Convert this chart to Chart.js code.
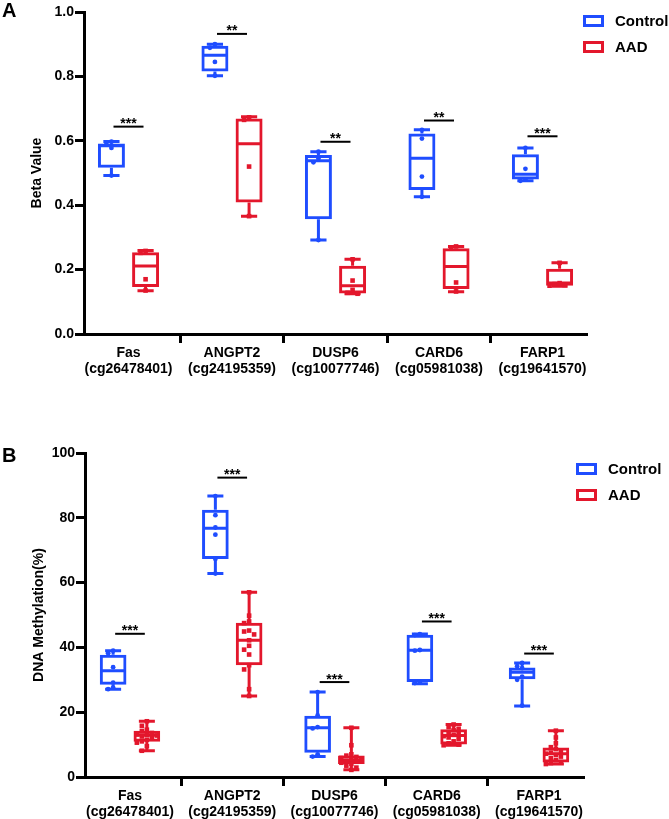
<!DOCTYPE html>
<html>
<head>
<meta charset="utf-8">
<script src="https://cdn.jsdelivr.net/npm/chart.js@4.4.1/dist/chart.umd.min.js"></script>
<style>
  html, body { margin: 0; padding: 0; background: #fff; }
  body { width: 669px; height: 819px; position: relative; overflow: hidden;
         font-family: "Liberation Sans", Arial, sans-serif; }
  .panel { position: absolute; left: 0; }
  .plabel { position: absolute; font-weight: bold; font-size: 20px; line-height: 1; color: #000; }
  .leg { position: absolute; font-weight: bold; font-size: 15px; color: #000; white-space: nowrap; }
  .leg .sw { position: absolute; left: 0; width: 21px; height: 12px; box-sizing: border-box; border: 3px solid; }
  .leg .tx { position: absolute; left: 32px; line-height: 16px; }
</style>
</head>
<body>
<div class="panel" style="top:0;width:669px;height:400px;"><canvas id="chartA" width="669" height="400"></canvas></div>
<div class="panel" style="top:400px;width:669px;height:419px;"><canvas id="chartB" width="669" height="419"></canvas></div>
<div class="plabel" style="left:2px;top:0px;">A</div>
<div class="plabel" style="left:2px;top:445px;">B</div>
<div id="legA"></div>
<div id="legB"></div>
<script>
// ---------------- DATA ----------------
const categories = [
  ['Fas', '(cg26478401)'],
  ['ANGPT2', '(cg24195359)'],
  ['DUSP6', '(cg10077746)'],
  ['CARD6', '(cg05981038)'],
  ['FARP1', '(cg19641570)']
];
const seriesNames = ['Control', 'AAD'];

// Panel A: Beta Value
const yTicksA = [0.0, 0.2, 0.4, 0.6, 0.8, 1.0];
const ctrlMinA = [0.492, 0.802, 0.292, 0.426, 0.476];
const ctrlQ1A  = [0.516, 0.815, 0.356, 0.447, 0.480];
const ctrlMedA = [0.585, 0.866, 0.538, 0.546, 0.496];
const ctrlQ3A  = [0.592, 0.895, 0.556, 0.623, 0.558];
const ctrlMaxA = [0.598, 0.900, 0.566, 0.634, 0.578];
const ctrlPtsA = [
  [0.597, 0.590, 0.578, 0.492],
  [0.900, 0.889, 0.845, 0.802],
  [0.566, 0.545, 0.533, 0.292],
  [0.634, 0.607, 0.489, 0.426],
  [0.578, 0.513, 0.480, 0.476]
];
const aadMinA = [0.134, 0.366, 0.125, 0.131, 0.148];
const aadQ1A  = [0.146, 0.408, 0.126, 0.140, 0.150];
const aadMedA = [0.211, 0.591, 0.150, 0.210, 0.158];
const aadQ3A  = [0.254, 0.669, 0.212, 0.266, 0.203];
const aadMaxA = [0.259, 0.675, 0.232, 0.272, 0.221];
const aadPtsA = [
  [0.258, 0.252, 0.170, 0.135],
  [0.673, 0.665, 0.520, 0.366],
  [0.232, 0.166, 0.137, 0.128, 0.125],
  [0.272, 0.265, 0.160, 0.132],
  [0.221, 0.158, 0.155, 0.152, 0.150]
];
const sigYA    = [0.644, 0.932, 0.597, 0.663, 0.614];
const sigTextA = ['***', '**', '**', '**', '***'];

// Panel B: DNA Methylation (%)
const yTicksB = [0, 20, 40, 60, 80, 100];
const ctrlMinB = [27.1, 62.8, 6.3, 28.8, 21.9];
const ctrlQ1B  = [28.5, 67.3, 7.5, 29.3, 30.2];
const ctrlMedB = [32.8, 76.8, 15.2, 39.1, 32.3];
const ctrlQ3B  = [37.7, 82.5, 18.9, 43.9, 33.8];
const ctrlMaxB = [39.0, 86.7, 26.2, 44.1, 35.2];
const ctrlPtsB = [
  [39.0, 38.2, 33.9, 29.1, 27.6, 27.1],
  [86.7, 80.8, 77.0, 74.8, 67.3, 62.8],
  [26.2, 19.0, 15.4, 15.0, 7.0, 6.3],
  [44.1, 43.8, 39.2, 39.0, 29.3, 29.0],
  [35.2, 34.2, 33.6, 31.0, 30.0, 22.0]
];
const aadMinB = [8.1, 25.0, 2.2, 9.8, 4.0];
const aadQ1B  = [10.9, 34.5, 4.0, 10.0, 4.5];
const aadMedB = [12.9, 42.2, 5.1, 12.8, 7.2];
const aadQ3B  = [14.3, 47.6, 6.6, 14.7, 9.1];
const aadMaxB = [17.2, 57.0, 15.2, 16.2, 14.3];
const aadPtsB = [
  [17.2, 15.8, 14.6, 14.2, 13.6, 13.2, 13.0, 12.8, 12.5, 12.0, 11.5, 11.0, 10.6, 9.5, 8.1],
  [57.0, 49.8, 48.0, 47.5, 45.2, 44.9, 44.0, 42.2, 40.5, 39.3, 37.8, 34.5, 33.2, 27.1, 25.0],
  [15.2, 9.8, 7.0, 6.6, 6.2, 5.9, 5.5, 5.2, 5.0, 4.7, 4.4, 4.0, 3.5, 2.9, 2.2],
  [16.2, 15.4, 14.9, 14.5, 13.8, 13.4, 13.0, 12.6, 12.2, 11.8, 11.0, 10.4, 10.0, 9.8],
  [14.3, 12.2, 10.4, 9.2, 8.6, 8.0, 7.5, 7.2, 6.8, 6.3, 5.8, 5.2, 4.6, 4.3, 4.0]
];
const sigYB    = [44.2, 92.4, 29.3, 48.0, 38.1];
const sigTextB = ['***', '***', '***', '***', '***'];

// ---------------- STYLE ----------------
const BLUE = '#1f4dff';
const RED = '#e3172c';
const FONT = '"Liberation Sans", Arial, sans-serif';

function makePlugin(spec) {
  return {
    id: 'boxExtras',
    afterDatasetsDraw(chart) {
      const ctx = chart.ctx, ys = chart.scales.y, xs = chart.scales.x;
      ctx.save();
      spec.groups.forEach((g, di) => {
        const meta = chart.getDatasetMeta(di);
        meta.data.forEach((bar, i) => {
          const cx = bar.x, w = bar.width;
          const pMin = ys.getPixelForValue(g.min[i]);
          const pQ1 = ys.getPixelForValue(g.q1[i]);
          const pMed = ys.getPixelForValue(g.med[i]);
          const pQ3 = ys.getPixelForValue(g.q3[i]);
          const pMax = ys.getPixelForValue(g.max[i]);
          const cw = w * 0.3;
          ctx.strokeStyle = g.color;
          ctx.lineWidth = 3;
          ctx.lineCap = 'butt';
          ctx.beginPath();
          ctx.moveTo(cx, pQ3); ctx.lineTo(cx, pMax);
          ctx.moveTo(cx, pQ1); ctx.lineTo(cx, pMin);
          ctx.moveTo(cx - cw, pMax); ctx.lineTo(cx + cw, pMax);
          ctx.moveTo(cx - cw, pMin); ctx.lineTo(cx + cw, pMin);
          ctx.moveTo(cx - w / 2 + 1, pMed); ctx.lineTo(cx + w / 2 - 1, pMed);
          ctx.stroke();
          // points with simple deterministic beeswarm dodge
          const placed = [];
          const step = 5, sz = 4.6;
          const offs = [0, -1, 1, -2, 2, -3, 3];
          ctx.fillStyle = g.color;
          g.pts[i].forEach(v => {
            const py = ys.getPixelForValue(v);
            let dx = 0;
            for (const o of offs) {
              const cand = o * step;
              if (!placed.some(p => Math.abs(p.y - py) < sz && Math.abs(p.x - cand) < sz)) { dx = cand; break; }
            }
            placed.push({x: dx, y: py});
            if (g.shape === 'circle') {
              ctx.beginPath(); ctx.arc(cx + dx, py, 2.4, 0, Math.PI * 2); ctx.fill();
            } else {
              ctx.fillRect(cx + dx - 2.3, py - 2.3, 4.6, 4.6);
            }
          });
        });
      });
      // significance bars
      ctx.strokeStyle = '#000';
      ctx.fillStyle = '#000';
      ctx.lineWidth = 2;
      ctx.font = 'bold 14px ' + FONT;
      ctx.textAlign = 'center';
      ctx.textBaseline = 'alphabetic';
      spec.sigY.forEach((v, i) => {
        const py = ys.getPixelForValue(v);
        const x0 = xs.getPixelForValue(i - 0.145), x1 = xs.getPixelForValue(i + 0.145);
        ctx.beginPath(); ctx.moveTo(x0, py); ctx.lineTo(x1, py); ctx.stroke();
        ctx.fillText(spec.sigText[i], (x0 + x1) / 2, py + 1.5);
      });
      ctx.restore();
    }
  };
}

function makeChart(id, spec) {
  const ds = (name, g, color) => ({
    label: name,
    data: g.q1.map((q, i) => ({x: i, y: [q, g.q3[i]]})),
    borderColor: color,
    backgroundColor: 'rgba(255,255,255,0)',
    borderWidth: 3,
    borderSkipped: false,
    categoryPercentage: 0.66,
    barPercentage: 0.79
  });
  const tickFont = {family: FONT, size: 14, weight: 'bold', lineHeight: 16 / 14};
  return new Chart(document.getElementById(id), {
    type: 'bar',
    data: {
      datasets: [ds(seriesNames[0], spec.groups[0], BLUE), ds(seriesNames[1], spec.groups[1], RED)]
    },
    options: {
      responsive: false,
      animation: false,
      layout: {padding: {top: spec.padTop, left: spec.padLeft, right: spec.padRight, bottom: 0}},
      plugins: {legend: {display: false}, tooltip: {enabled: false}},
      scales: {
        x: {
          type: 'linear', min: spec.xmin, max: spec.xmax, offset: false,
          afterBuildTicks: s => { s.ticks = categories.map((_, i) => ({value: i})); },
          afterFit: s => { s.height = spec.xH; },
          ticks: {callback: v => categories[v], font: tickFont, color: '#000', padding: 2,
                  maxRotation: 0, minRotation: 0, autoSkip: false},
          grid: {display: true, drawOnChartArea: false, drawTicks: true, tickLength: 9,
                 tickWidth: 3, tickColor: '#000'},
          border: {display: true, color: '#000', width: 3}
        },
        y: {
          min: spec.yTicks[0], max: spec.yTicks[spec.yTicks.length - 1],
          afterBuildTicks: s => { s.ticks = spec.yTicks.map(v => ({value: v})); },
          afterFit: s => { s.width = spec.yW; },
          ticks: {callback: v => spec.fmt(v), font: {family: FONT, size: 14, weight: 'bold'},
                  color: '#000', padding: 1},
          title: {display: true, text: spec.yTitle, color: '#000',
                  font: {family: FONT, size: 14, weight: 'bold'}, padding: {top: 0, bottom: 0}},
          grid: {display: true, drawOnChartArea: false, drawTicks: true, tickLength: 9,
                 tickWidth: 3, tickColor: '#000'},
          border: {display: true, color: '#000', width: 3}
        }
      }
    },
    plugins: [makePlugin(spec)]
  });
}

makeChart('chartA', {
  groups: [
    {min: ctrlMinA, q1: ctrlQ1A, med: ctrlMedA, q3: ctrlQ3A, max: ctrlMaxA, pts: ctrlPtsA, color: BLUE, shape: 'circle'},
    {min: aadMinA, q1: aadQ1A, med: aadMedA, q3: aadQ3A, max: aadMaxA, pts: aadPtsA, color: RED, shape: 'square'}
  ],
  sigY: sigYA, sigText: sigTextA,
  yTicks: yTicksA, fmt: v => v.toFixed(1), yTitle: 'Beta Value',
  xmin: -0.43, xmax: 4.43,
  padTop: 12, padLeft: 29, padRight: 82, yW: 55, xH: 66
});

makeChart('chartB', {
  groups: [
    {min: ctrlMinB, q1: ctrlQ1B, med: ctrlMedB, q3: ctrlQ3B, max: ctrlMaxB, pts: ctrlPtsB, color: BLUE, shape: 'circle'},
    {min: aadMinB, q1: aadQ1B, med: aadMedB, q3: aadQ3B, max: aadMaxB, pts: aadPtsB, color: RED, shape: 'square'}
  ],
  sigY: sigYB, sigText: sigTextB,
  yTicks: yTicksB, fmt: v => String(v), yTitle: 'DNA Methylation(%)',
  xmin: -0.44, xmax: 4.44,
  padTop: 53, padLeft: 31, padRight: 85, yW: 54, xH: 42
});

// legends (HTML)
function legend(elId, left, top, gap) {
  const el = document.getElementById(elId);
  el.className = 'leg';
  el.style.left = left + 'px';
  el.style.top = top + 'px';
  [BLUE, RED].forEach((c, i) => {
    const y = i * gap;
    el.insertAdjacentHTML('beforeend',
      `<span class="sw" style="top:${y}px;border-color:${c}"></span>` +
      `<span class="tx" style="top:${y - 2}px">${seriesNames[i]}</span>`);
  });
}
legend('legA', 583, 15, 26);
legend('legB', 576, 463, 26);
</script>
</body>
</html>
